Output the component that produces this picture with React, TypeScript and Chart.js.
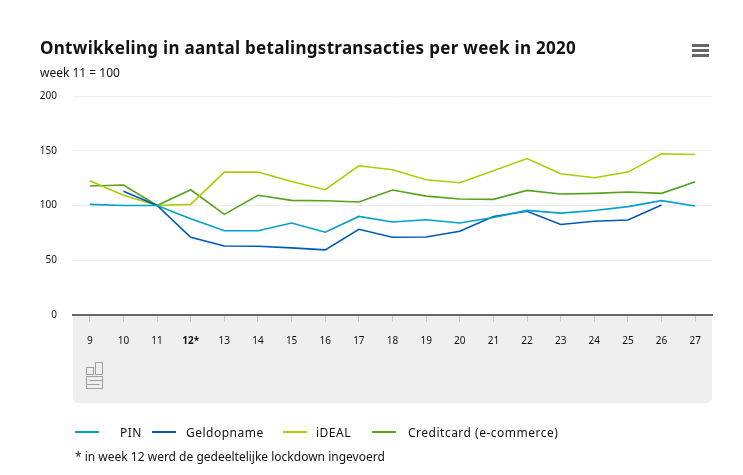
import React, { useEffect, useRef } from "react";
import { Chart, registerables } from "chart.js";

Chart.register(...registerables);

const weeks = ["9", "10", "11", "12*", "13", "14", "15", "16", "17", "18", "19", "20", "21", "22", "23", "24", "25", "26", "27"];
const pin = [101, 100, 100, 88, 77, 77, 84, 75.6, 90, 85, 87, 84, 89, 95.5, 93, 95.5, 99, 104.4, 99.5];
const geldopname = [null, 113, 100, 71, 63, 62.8, 61.3, 59.5, 78.3, 71, 71.3, 76.5, 90, 94.7, 82.6, 85.6, 86.8, 100.5, null];
const ideal = [122.6, 109.3, 100, 101, 130.5, 130.5, 122, 114.4, 136.3, 132.6, 123.5, 120.8, 131.7, 142.9, 129, 125.3, 130.5, 147.2, 146.6];
const creditcard = [117.8, 118.7, 100, 114.4, 91.9, 109.3, 104.7, 104.4, 103.2, 114.1, 108.6, 105.9, 105.6, 113.8, 110.5, 111.1, 112.3, 111.1, 121.7];
const yTicks = [0, 50, 100, 150, 200];

const seriesNames = ["PIN", "Geldopname", "iDEAL", "Creditcard (e-commerce)"];
const seriesColors = ["#00a1cd", "#0058b8", "#afcb05", "#53a31d"];

const FONT = "'Noto Sans', 'DejaVu Sans', sans-serif";

const bandPlugin = {
  id: "band",
  beforeDraw(chart: any) {
    const { ctx, chartArea, scales } = chart;
    const x = scales.x;
    const left = chartArea.left;
    const right = chartArea.right;
    const top = x.top;
    const bottom = 403;
    const r = 6;
    ctx.save();
    ctx.fillStyle = "#efefef";
    ctx.beginPath();
    ctx.moveTo(left, top);
    ctx.lineTo(right, top);
    ctx.lineTo(right, bottom - r);
    ctx.quadraticCurveTo(right, bottom, right - r, bottom);
    ctx.lineTo(left + r, bottom);
    ctx.quadraticCurveTo(left, bottom, left, bottom - r);
    ctx.closePath();
    ctx.fill();
    // small logo
    ctx.strokeStyle = "#a0a0a0";
    ctx.lineWidth = 1;
    const lx = 86.5, ly = 362.5;
    ctx.strokeRect(lx, ly + 5, 7, 7);
    ctx.strokeRect(lx + 9, ly, 7, 12);
    ctx.strokeRect(lx, ly + 14, 16, 12);
    ctx.beginPath();
    ctx.moveTo(lx + 3, ly + 18);
    ctx.lineTo(lx + 16, ly + 18);
    ctx.moveTo(lx, ly + 22);
    ctx.lineTo(lx + 13, ly + 22);
    ctx.stroke();
    ctx.restore();
  },
};

function App() {
  const ref = useRef<HTMLCanvasElement | null>(null);

  useEffect(() => {
    if (!ref.current) return;
    const data = [pin, geldopname, ideal, creditcard];
    const chart = new Chart(ref.current, {
      type: "line",
      data: {
        labels: weeks,
        datasets: data.map((d, i) => ({
          label: seriesNames[i],
          data: d as any,
          borderColor: seriesColors[i],
          backgroundColor: seriesColors[i],
          borderWidth: 1.6,
          pointRadius: 0,
          tension: 0,
          spanGaps: false,
        })),
      },
      options: {
        animation: false,
        responsive: false,
        devicePixelRatio: 1,
        layout: { padding: { top: 96, right: 31, left: 0, bottom: 0 } },
        plugins: {
          legend: { display: false },
          title: { display: false },
          tooltip: { enabled: false },
        },
        scales: {
          x: {
            offset: true,
            afterFit: (s: any) => {
              s.height = 160;
            },
            grid: {
              offset: false,
              drawOnChartArea: false,
              drawTicks: true,
              tickLength: 7,
              color: "#c8c8c8",
            },
            border: { color: "#666666", width: 2 },
            ticks: {
              color: "#111",
              font: (c: any) => ({ family: FONT, size: 10, weight: weeks[c.index] === "12*" ? "bold" : "normal" }),
              padding: 13,
              autoSkip: false,
              maxRotation: 0,
            },
          },
          y: {
            min: 0,
            max: 200,
            afterFit: (s: any) => {
              s.width = 73;
            },
            afterBuildTicks: (s: any) => {
              s.ticks = yTicks.map((v) => ({ value: v }));
            },
            grid: { color: "#ececec", drawTicks: false, lineWidth: 1 },
            border: { display: false },
            ticks: {
              color: "#111",
              font: { family: FONT, size: 10 },
              padding: 16,
            },
          },
        },
      },
      plugins: [bandPlugin],
    });
    return () => chart.destroy();
  }, []);

  const legendItems = [
    { x: 75, tx: 120 },
    { x: 152, tx: 186 },
    { x: 283, tx: 316 },
    { x: 372, tx: 408 },
  ];

  return (
    <div style={{ position: "absolute", left: 0, top: 0, width: 743, height: 475, background: "#fff", fontFamily: FONT, color: "#111" }}>
      <canvas ref={ref} width={743} height={475} style={{ position: "absolute", left: 0, top: 0 }} />
      <div style={{ position: "absolute", left: 40, top: 36, fontSize: 17, fontWeight: "bold", whiteSpace: "nowrap", letterSpacing: 0.3 }}>
        Ontwikkeling in aantal betalingstransacties per week in 2020
      </div>
      <div style={{ position: "absolute", left: 40, top: 64, fontSize: 12, whiteSpace: "nowrap" }}>week 11 = 100</div>
      <div style={{ position: "absolute", left: 692, top: 44 }}>
        {[0, 1, 2].map((i) => (
          <div key={i} style={{ width: 17, height: 3, background: "#666", marginBottom: 2 }} />
        ))}
      </div>
      {legendItems.map((it, i) => (
        <React.Fragment key={i}>
          <div style={{ position: "absolute", left: it.x, top: 431, width: 24, height: 2, background: seriesColors[i] }} />
          <div style={{ position: "absolute", left: it.tx, top: 424, fontSize: 12, whiteSpace: "nowrap", letterSpacing: 0.5 }}>
            {seriesNames[i]}
          </div>
        </React.Fragment>
      ))}
      <div style={{ position: "absolute", left: 75, top: 448, fontSize: 12, whiteSpace: "nowrap" }}>
        * in week 12 werd de gedeeltelijke lockdown ingevoerd
      </div>
    </div>
  );
}

export default App;
